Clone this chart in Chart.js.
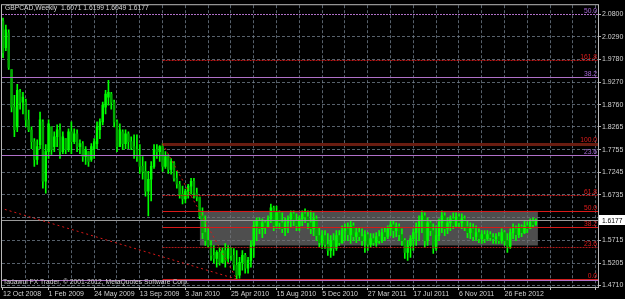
<!DOCTYPE html>
<html><head><meta charset="utf-8">
<script src="https://cdn.jsdelivr.net/npm/chart.js@4.4.1/dist/chart.umd.min.js"></script>
<style>html,body{margin:0;padding:0;background:#000;overflow:hidden}</style>
</head><body>
<canvas id="c" width="625" height="299"></canvas>
<script>
// ---- data (weekly bars, GBPCAD) ----
const symbolTitle = "GBPCAD,Weekly";
const copyrightText = "Tadawul FX Trader, \u00A9 2001-2012, MetaQuotes Software Corp.";
const dateTickLabels = ["12 Oct 2008","1 Feb 2009","24 May 2009","13 Sep 2009","3 Jan 2010","25 Apr 2010","15 Aug 2010","5 Dec 2010","27 Mar 2011","17 Jul 2011","6 Nov 2011","26 Feb 2012"];
const priceTicks = [2.0800,2.0290,1.9780,1.9270,1.8760,1.8265,1.7755,1.7245,1.6735,1.6225,1.5715,1.5205,1.4710];

const opens = [2.0644,2.0044,2.0377,1.9555,1.8711,1.8266,1.9044,1.8822,1.8822,1.8422,1.8200,1.7933,1.7533,1.7866,1.8377,1.7044,1.7711,1.8266,1.7822,1.8044,
1.8200,1.7711,1.8000,1.7755,1.8155,1.7933,1.8111,1.7822,1.7888,1.7600,1.7711,1.7533,1.7777,1.7888,1.8200,1.8377,1.8711,1.8933,1.9000,1.8822,
1.8377,1.7822,1.8155,1.7888,1.8111,1.7933,1.7822,1.7755,1.7600,1.7377,1.7266,1.6822,1.7088,1.7377,1.7755,1.7711,1.7822,1.7377,1.7600,1.7311,
1.7444,1.7111,1.6977,1.6755,1.6644,1.6822,1.6933,1.7044,1.6777,1.6688,1.6266,1.5888,1.5711,1.5600,1.5377,1.5311,1.5444,1.5222,1.5488,1.5311,
1.5533,1.5377,1.5155,1.4933,1.5222,1.5377,1.5088,1.5266,1.5600,1.6044,1.6155,1.5977,1.6111,1.6022,1.6200,1.6444,1.6044,1.6333,1.6111,1.5977,
1.6111,1.6200,1.6311,1.6155,1.6044,1.6200,1.6311,1.6244,1.6111,1.5977,1.6200,1.5822,1.5666,1.5822,1.5622,1.5488,1.5711,1.5533,1.5822,1.5666,
1.5933,1.5977,1.5844,1.6044,1.5800,1.5888,1.5800,1.5711,1.5844,1.5622,1.5755,1.5666,1.5800,1.5711,1.5888,1.5800,1.5977,1.6066,1.5933,1.6022,
1.5844,1.5711,1.5444,1.5600,1.5755,1.5888,1.6022,1.6155,1.6266,1.5711,1.6111,1.5933,1.5533,1.5822,1.6111,1.6266,1.5977,1.6111,1.6200,1.6044,
1.6244,1.6111,1.6200,1.6022,1.5888,1.5977,1.5800,1.5888,1.5755,1.5844,1.5755,1.5844,1.5777,1.5755,1.5800,1.5711,1.5888,1.5711,1.5577,1.5888,
1.5977,1.5844,1.6022,1.5888,1.6044,1.5977,1.6133,1.6071];
const highs = [2.0711,2.0555,2.0444,1.9555,1.8977,1.9222,1.9111,1.9044,1.8888,1.8644,1.8266,1.8000,1.7977,1.8600,1.8422,1.7866,1.8422,1.8266,1.8155,1.8311,
1.8333,1.8155,1.8000,1.8222,1.8377,1.8222,1.8200,1.7977,1.7933,1.7822,1.7711,1.7888,1.8000,1.8377,1.8444,1.8822,1.9088,1.9311,1.9044,1.8866,
1.8422,1.8333,1.8200,1.8200,1.8155,1.8044,1.8088,1.8088,1.7866,1.7600,1.7488,1.7266,1.7488,1.7866,1.7866,1.7844,1.7888,1.7711,1.7644,1.7555,
1.7488,1.7266,1.7044,1.6933,1.6866,1.6977,1.7111,1.7111,1.6888,1.6688,1.6444,1.6266,1.6000,1.5711,1.5600,1.5488,1.5555,1.5555,1.5644,1.5600,
1.5555,1.5533,1.5488,1.5333,1.5488,1.5422,1.5333,1.5711,1.6155,1.6222,1.6222,1.6200,1.6155,1.6266,1.6533,1.6488,1.6488,1.6377,1.6333,1.6222,
1.6266,1.6377,1.6377,1.6311,1.6266,1.6377,1.6422,1.6377,1.6377,1.6333,1.6266,1.6000,1.5933,1.5933,1.5866,1.5822,1.5866,1.5933,1.5933,1.6044,
1.6088,1.6111,1.6155,1.6111,1.6000,1.6000,1.5977,1.5933,1.5888,1.5866,1.5866,1.5888,1.5933,1.5977,1.6000,1.6044,1.6155,1.6155,1.6111,1.6088,
1.5977,1.5755,1.5711,1.5822,1.5977,1.6111,1.6266,1.6377,1.6333,1.6222,1.6155,1.6088,1.6044,1.6200,1.6377,1.6333,1.6222,1.6266,1.6333,1.6333,
1.6311,1.6311,1.6266,1.6155,1.6111,1.6088,1.6044,1.5977,1.5933,1.5933,1.5933,1.5911,1.5866,1.5866,1.5888,1.5977,1.5933,1.5866,1.5977,1.6088,
1.6044,1.6088,1.6066,1.6155,1.6133,1.6200,1.6222,1.6199];
const lows = [1.9822,1.9977,1.9555,1.8600,1.8044,1.8155,1.8666,1.8555,1.8266,1.8155,1.7777,1.7377,1.7422,1.7777,1.6888,1.6777,1.7555,1.7644,1.7711,1.7822,
1.7555,1.7666,1.7666,1.7711,1.7666,1.7888,1.7711,1.7666,1.7488,1.7422,1.7377,1.7488,1.7555,1.7777,1.8000,1.8311,1.8555,1.8755,1.8666,1.8266,
1.7711,1.7822,1.7755,1.7777,1.7777,1.7755,1.7555,1.7488,1.7222,1.7088,1.6711,1.6266,1.6600,1.7333,1.7555,1.7488,1.7266,1.7333,1.7222,1.7200,
1.7044,1.6888,1.6666,1.6533,1.6555,1.6666,1.6755,1.6666,1.6600,1.6200,1.5755,1.5600,1.5555,1.5266,1.5200,1.5111,1.5155,1.5200,1.5111,1.5222,
1.5266,1.5044,1.4844,1.4866,1.5044,1.4977,1.4977,1.5111,1.5333,1.5711,1.5866,1.5777,1.5866,1.6000,1.6111,1.5933,1.5977,1.5977,1.5888,1.5822,
1.5888,1.6000,1.6044,1.5933,1.5933,1.6044,1.6111,1.5977,1.5866,1.5822,1.5711,1.5555,1.5533,1.5533,1.5377,1.5333,1.5377,1.5488,1.5600,1.5644,
1.5711,1.5711,1.5644,1.5711,1.5666,1.5711,1.5600,1.5444,1.5488,1.5555,1.5600,1.5577,1.5644,1.5666,1.5711,1.5755,1.5822,1.5777,1.5800,1.5711,
1.5600,1.5311,1.5266,1.5333,1.5488,1.5600,1.5711,1.5888,1.5555,1.5600,1.5822,1.5422,1.5488,1.5711,1.5888,1.5822,1.5866,1.5933,1.5977,1.6000,
1.6000,1.5977,1.5933,1.5777,1.5755,1.5711,1.5711,1.5666,1.5644,1.5666,1.5711,1.5711,1.5644,1.5644,1.5644,1.5644,1.5600,1.5444,1.5533,1.5755,
1.5711,1.5777,1.5800,1.5866,1.5888,1.5977,1.6000,1.6049];
const closes = [1.9933,2.0444,1.9600,1.8711,1.8200,1.9088,1.8822,1.8933,1.8422,1.8200,1.7933,1.7533,1.7822,1.8422,1.7044,1.7711,1.8333,1.7755,1.8044,1.8200,
1.7711,1.8044,1.7755,1.8155,1.7933,1.8111,1.7822,1.7888,1.7600,1.7755,1.7488,1.7822,1.7933,1.8266,1.8377,1.8755,1.9000,1.9044,1.8822,1.8377,
1.7822,1.8200,1.7888,1.8111,1.7933,1.7800,1.7755,1.7600,1.7377,1.7266,1.6822,1.7088,1.7377,1.7755,1.7711,1.7822,1.7377,1.7600,1.7311,1.7488,
1.7111,1.6977,1.6755,1.6644,1.6822,1.6933,1.7044,1.6777,1.6688,1.6266,1.5888,1.5711,1.5600,1.5377,1.5311,1.5444,1.5222,1.5488,1.5266,1.5533,
1.5377,1.5155,1.4933,1.5222,1.5377,1.5088,1.5266,1.5600,1.6044,1.6155,1.5977,1.6111,1.6022,1.6200,1.6444,1.6044,1.6333,1.6111,1.5977,1.6111,
1.6200,1.6311,1.6155,1.6044,1.6200,1.6311,1.6244,1.6111,1.5977,1.6200,1.5822,1.5666,1.5822,1.5622,1.5488,1.5711,1.5533,1.5822,1.5666,1.5933,
1.5977,1.5844,1.6044,1.5800,1.5888,1.5800,1.5711,1.5844,1.5622,1.5755,1.5666,1.5800,1.5711,1.5888,1.5800,1.5977,1.6066,1.5933,1.6022,1.5844,
1.5711,1.5444,1.5600,1.5755,1.5888,1.6022,1.6155,1.6266,1.5711,1.6111,1.5933,1.5533,1.5822,1.6111,1.6266,1.5977,1.6111,1.6200,1.6044,1.6244,
1.6111,1.6200,1.6022,1.5888,1.5977,1.5800,1.5888,1.5755,1.5844,1.5755,1.5844,1.5777,1.5755,1.5800,1.5711,1.5888,1.5711,1.5577,1.5888,1.5977,
1.5844,1.6022,1.5888,1.6044,1.5977,1.6133,1.6066,1.6177];

// ---- drawn objects (in data units) ----
const purpleFib = {p0: 1.4822, p100: 2.6778, levels: [0, 23.6, 38.2, 50.0]};
const redFib = {highBar: 56, lowBar: 82, levels: [0, 23.6, 38.2, 50.0, 61.8, 100.0, 161.8]};
const boxRect = {x1: 69.1, x2: 187.7, top: 1.6377, bottom: 1.5600};
const trendLine = {x1: -1.05, y1: 1.6444, x2: 82, y2: 1.4844};

const N = closes.length;
const last = N - 1;
const wickData = highs.map((h, i) => ({x: i, y: [lows[i], h]}));
const bodyData = opens.map((o, i) => ({x: i, y: [Math.min(o, closes[i]), Math.max(o, closes[i])]}));
const bodyColors = opens.map((o, i) => closes[i] >= o ? '#00ff00' : '#00a800');

const FONT = "'Liberation Sans',Arial,sans-serif";
Chart.defaults.font.family = FONT;
Chart.defaults.font.size = 7;

const GRID = 'rgba(120,135,150,0.72)';
const RED = '#d81818';
const PURPLE = '#b070c8';
const SQUEEZE = 0.84;

function hline(ctx, x1, x2, y, color, width, dash) {
  ctx.save();
  ctx.strokeStyle = color; ctx.lineWidth = width; ctx.setLineDash(dash || []);
  const yy = Math.round(y) + (width % 2 ? 0.5 : 0);
  ctx.beginPath(); ctx.moveTo(x1, yy); ctx.lineTo(x2, yy); ctx.stroke();
  ctx.restore();
}
function squeezedText(ctx, text, x, y, color, align) {
  ctx.save();
  ctx.font = '8px ' + FONT; ctx.fillStyle = color; ctx.textBaseline = 'alphabetic';
  ctx.textAlign = align || 'left';
  ctx.translate(x, y); ctx.scale(SQUEEZE, 1);
  ctx.fillText(text, 0, 0);
  ctx.restore();
}

const overlay = {
  id: 'overlay',
  beforeDraw(chart) {
    const ctx = chart.ctx;
    ctx.save(); ctx.fillStyle = '#000'; ctx.fillRect(0, 0, chart.width, chart.height); ctx.restore();
  },
  beforeDatasetsDraw(chart) {
    const {ctx, chartArea: a, scales: {x, y}} = chart;
    ctx.save();
    ctx.beginPath(); ctx.rect(a.left, a.top, a.right - a.left, a.bottom - a.top); ctx.clip();
    const X1 = x.getPixelForValue(boxRect.x1), X2 = x.getPixelForValue(boxRect.x2);
    const Y1 = y.getPixelForValue(boxRect.top), Y2 = y.getPixelForValue(boxRect.bottom);
    ctx.fillStyle = 'rgba(115,115,115,0.68)';
    ctx.fillRect(X1, Y1, X2 - X1, Y2 - Y1);
    ctx.restore();
  },
  afterDatasetsDraw(chart) {
    const {ctx, chartArea: a, scales: {x, y}} = chart;
    ctx.save();
    ctx.beginPath(); ctx.rect(a.left, a.top, a.right - a.left, a.bottom - a.top); ctx.clip();
    hline(ctx, a.left, a.right, y.getPixelForValue(closes[last]), '#9a9a9a', 1);
    ctx.save(); ctx.strokeStyle = RED; ctx.lineWidth = 1; ctx.setLineDash([2, 3]);
    ctx.beginPath();
    ctx.moveTo(x.getPixelForValue(trendLine.x1), y.getPixelForValue(trendLine.y1));
    ctx.lineTo(x.getPixelForValue(trendLine.x2), y.getPixelForValue(trendLine.y2));
    ctx.stroke(); ctx.restore();
    const pStyles = {0: [1, []], 23.6: [1, []], 38.2: [1, []], 50: [1, [2, 1]]};
    purpleFib.levels.forEach(l => {
      const v = purpleFib.p0 + (purpleFib.p100 - purpleFib.p0) * l / 100;
      const py = y.getPixelForValue(v);
      const st = pStyles[l];
      hline(ctx, a.left, a.right, py, PURPLE, st[0], st[1]);
      if (l > 0) squeezedText(ctx, l.toFixed(1), a.right - 1, Math.round(py) - 1, '#a868d8', 'right');
    });
    const hi = highs[redFib.highBar], lo = lows[redFib.lowBar];
    const rx = x.getPixelForValue(redFib.highBar);
    const rStyles = {0: ['#d02020', 1, []], 23.6: ['#b01818', 1, [2, 1]], 38.2: [RED, 1, []], 50: [RED, 1, []],
      61.8: ['#c81818', 1, [2, 1]], 100: ['#6a1c10', 3, []], 161.8: ['#c01818', 1, [2, 1]]};
    redFib.levels.forEach(l => {
      const v = lo + (hi - lo) * l / 100;
      const py = y.getPixelForValue(v);
      const st = rStyles[l];
      hline(ctx, rx, a.right, py, st[0], st[1], st[2]);
      squeezedText(ctx, l.toFixed(1), a.right - 1, Math.round(py) - (l === 100 ? 2 : 1), '#e01c1c', 'right');
    });
    ctx.save(); ctx.strokeStyle = RED; ctx.lineWidth = 1; ctx.setLineDash([2, 3]);
    ctx.beginPath();
    ctx.moveTo(rx, y.getPixelForValue(hi));
    ctx.lineTo(x.getPixelForValue(redFib.lowBar), y.getPixelForValue(lo));
    ctx.stroke(); ctx.restore();
    ctx.restore();

    const t = symbolTitle + '  ' + [opens[last], highs[last], lows[last], closes[last]].map(v => v.toFixed(4)).join(' ');
    squeezedText(ctx, t, 5, 10, '#d8d8d8');
    squeezedText(ctx, copyrightText, 3, 284, '#d0d0d0');
  },
  afterDraw(chart) {
    const {ctx, chartArea: a, scales: {y}} = chart;
    ctx.save();
    ctx.strokeStyle = '#b8b8b8'; ctx.lineWidth = 1;
    ctx.strokeRect(a.left - 0.5, a.top - 0.5, a.right - a.left + 1, a.bottom - a.top + 1);
    const py = Math.round(y.getPixelForValue(closes[last]));
    ctx.fillStyle = '#ffffff';
    ctx.fillRect(a.right + 1, py - 5, 26, 10);
    ctx.restore();
    squeezedText(ctx, closes[last].toFixed(4), a.right + 4, py + 3, '#000');
  }
};

new Chart(document.getElementById('c'), {
  type: 'bar',
  data: {
    datasets: [
      {data: wickData, backgroundColor: '#00ff00', barThickness: 1, grouped: false, order: 2},
      {data: bodyData, backgroundColor: bodyColors, barThickness: 1.8, minBarLength: 1, grouped: false, order: 1}
    ]
  },
  options: {
    responsive: false, animation: false, devicePixelRatio: 1,
    layout: {padding: {top: 2, left: 2, right: 0, bottom: 0}},
    plugins: {legend: {display: false}, tooltip: {enabled: false}},
    scales: {
      x: {
        type: 'linear', min: -0.35, max: 208.8, position: 'bottom', offset: false,
        afterBuildTicks(s) { const t = []; for (let v = 0; v <= 208; v += 8) t.push({value: v}); s.ticks = t; },
        afterFit(s) { s.height = 12; },
        grid: {offset: false, color: ctx => ctx.tick && ctx.tick.value === 0 ? 'transparent' : GRID, lineWidth: 1, tickLength: 3,
               tickColor: ctx => ctx.tick && ctx.tick.value % 16 === 0 ? '#b8b8b8' : 'transparent'},
        border: {display: false, dash: [3, 2]},
        ticks: {color: '#d0d0d0', align: 'start', padding: 0, maxRotation: 0, autoSkip: false,
                callback: v => v % 16 === 0 ? (dateTickLabels[v / 16] || '') : ''}
      },
      y: {
        type: 'linear', position: 'right', min: 1.4667, max: 2.1,
        afterBuildTicks(s) { s.ticks = priceTicks.map(v => ({value: v})); },
        afterFit(s) { s.width = 27; },
        grid: {color: ctx => ctx.tick && ctx.tick.value === 2.08 ? 'transparent' : GRID, lineWidth: 1, tickLength: 3, tickColor: '#b8b8b8'},
        border: {display: false, dash: [3, 2]},
        ticks: {color: '#d0d0d0', padding: 1, autoSkip: false, callback: v => v.toFixed(4)}
      }
    }
  },
  plugins: [overlay]
});
</script>
</body></html>
